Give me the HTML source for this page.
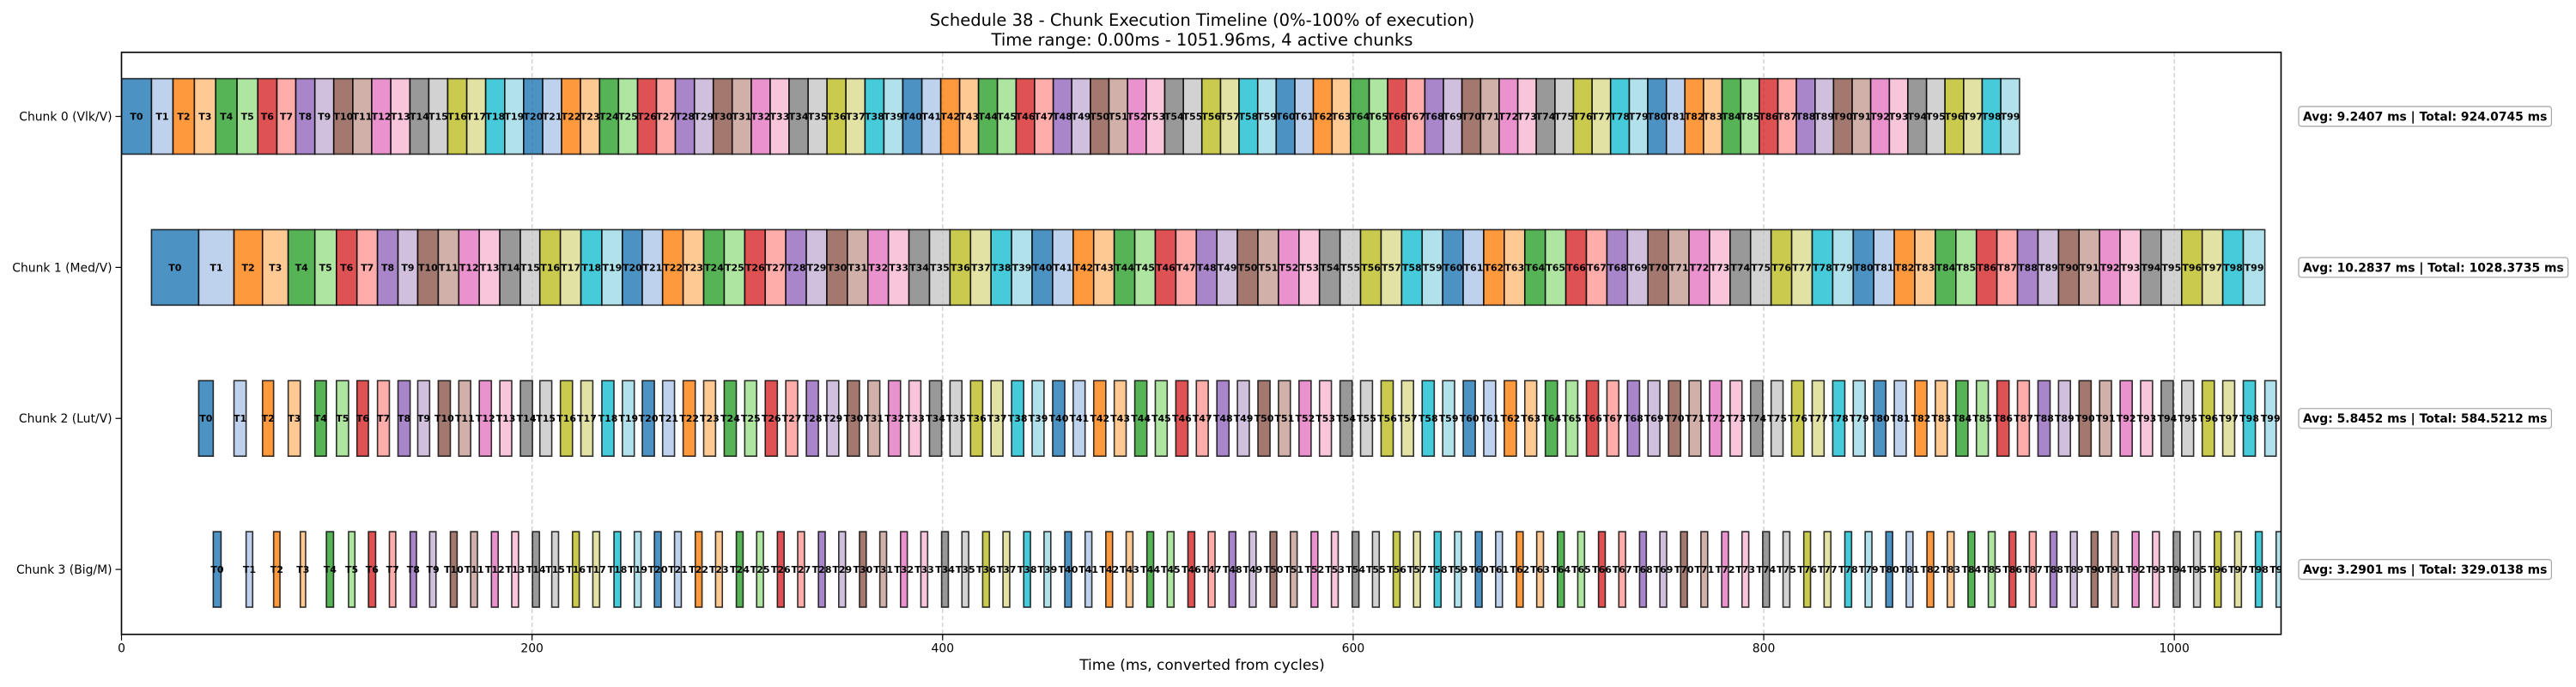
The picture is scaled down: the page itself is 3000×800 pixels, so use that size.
<!DOCTYPE html>
<html>
<head>
<meta charset="utf-8">
<style>
  html, body { margin:0; padding:0; background:#fff; }
  svg { display:block; font-family: "DejaVu Sans", "Liberation Sans", sans-serif; }
</style>
</head>
<body>
<svg id="chart" width="3000" height="800" viewBox="0 0 3000 800" xmlns="http://www.w3.org/2000/svg">
  <rect x="0" y="0" width="3000" height="800" fill="#fff"/>
  <text x="1400" y="30" text-anchor="middle" font-size="19.5" fill="#000">Schedule 38 - Chunk Execution Timeline (0%-100% of execution)</text>
  <text x="1400" y="53" text-anchor="middle" font-size="19.5" fill="#000">Time range: 0.00ms - 1051.96ms, 4 active chunks</text>
  <defs>
    <clipPath id="plotclip"><rect x="141.5" y="61" width="2515" height="677.7"/></clipPath>
  </defs>
  <g id="grid"></g>
  <g id="bars" clip-path="url(#plotclip)"></g>
  <g id="axes"></g>
  <text x="1400" y="780" text-anchor="middle" font-size="17" fill="#000">Time (ms, converted from cycles)</text>
  <g id="stats"></g>
</svg>
<script>
const chunkLabels = ["Chunk 0 (Vlk/V)", "Chunk 1 (Med/V)", "Chunk 2 (Lut/V)", "Chunk 3 (Big/M)"];
const statLabels = ["Avg: 9.2407 ms | Total: 924.0745 ms", "Avg: 10.2837 ms | Total: 1028.3735 ms", "Avg: 5.8452 ms | Total: 584.5212 ms", "Avg: 3.2901 ms | Total: 329.0138 ms"];
const xTicks = [0, 200, 400, 600, 800, 1000];
const dur0 = [14.6,10.5,10.4,10.4,10.4,10.1,9.3,9.2,9.3,9.2,9.3,9.2,9.3,9.3,9.2,9.2,9.3,9.2,9.3,9.2,
  9.3,9.2,9.2,9.3,9.2,9.3,9.2,9.2,9.3,9.2,9.2,9.3,9.2,9.2,9.3,9.2,9.2,9.3,9.2,9.2,
  9.3,9.2,9.2,9.2,9.2,9.1,9.0,9.1,9.0,9.1,9.0,9.1,9.1,9.0,9.1,9.0,9.1,9.0,9.1,9.0,
  9.1,9.0,9.1,9.0,9.1,9.0,9.1,9.0,9.1,9.0,9.1,9.0,9.1,9.0,9.1,9.0,9.1,9.0,9.1,9.0,
  9.1,9.0,9.1,9.0,9.1,9.0,9.1,9.0,9.1,9.0,9.1,9.0,9.1,9.0,9.1,9.0,9.1,9.0,9.1,9.1];
const dur1 = [23.0,17.2,13.9,12.5,13.0,10.5,10.0,10.0,10.0,9.6,10.0,10.0,10.0,10.0,10.0,9.5,10.0,10.0,10.2,10.0,
  9.7,9.9,10.0,10.0,10.0,10.0,10.0,10.0,10.0,10.0,10.0,10.0,10.0,10.0,10.0,10.0,10.0,10.0,10.0,10.0,
  10.0,10.0,10.0,10.0,10.0,10.0,10.0,10.0,10.0,10.0,10.0,10.0,10.0,10.0,10.0,10.0,10.0,10.0,10.0,10.0,
  10.0,10.0,10.0,10.0,10.0,10.0,10.0,10.0,10.0,10.0,10.0,10.0,10.0,10.0,10.0,10.0,10.0,10.0,10.0,10.0,
  10.0,10.0,10.0,10.0,10.0,10.0,10.0,10.0,10.0,10.0,10.0,10.0,10.0,10.0,10.0,10.0,10.0,10.0,10.0,10.5];
const dur2 = [7.1,5.9,5.4,5.9,5.6,5.9,5.6,5.8,5.9,5.8,5.9,5.8,5.9,5.8,5.9,5.8,5.9,5.8,5.9,5.8,
  5.9,5.8,5.9,5.8,5.9,5.8,5.9,5.8,5.9,5.8,5.9,5.8,5.9,5.8,5.9,5.8,5.9,5.8,5.9,5.8,
  5.9,5.8,5.9,5.8,5.9,5.8,5.9,5.8,5.9,5.8,5.9,5.8,5.9,5.8,5.9,5.8,5.9,5.8,5.9,5.8,
  5.9,5.8,5.9,5.8,5.9,5.8,5.9,5.8,5.9,5.8,5.9,5.8,5.9,5.8,5.9,5.8,5.9,5.8,5.9,5.8,
  5.9,5.8,5.9,5.8,5.9,5.8,5.9,5.8,5.9,5.8,5.9,5.8,5.9,5.8,5.9,5.8,5.9,5.8,5.9,5.5];
const dur3 = [3.8,3.2,3.1,2.6,3.5,3.1,3.5,3.1,3.1,3.1,3.3,3.3,3.3,3.3,3.4,3.3,3.3,3.3,3.3,3.3,
  3.3,3.3,3.3,3.3,3.3,3.3,3.3,3.3,3.3,3.3,3.3,3.3,3.3,3.3,3.3,3.3,3.3,3.3,3.3,3.3,
  3.3,3.3,3.3,3.3,3.3,3.3,3.3,3.3,3.3,3.3,3.3,3.3,3.3,3.3,3.3,3.3,3.3,3.3,3.3,3.3,
  3.3,3.3,3.3,3.3,3.3,3.3,3.3,3.3,3.3,3.3,3.3,3.3,3.3,3.3,3.3,3.3,3.3,3.3,3.3,3.3,
  3.3,3.3,3.3,3.3,3.3,3.3,3.3,3.3,3.3,3.3,3.3,3.3,3.3,3.3,3.3,3.3,3.3,3.3,3.3,3.3];
const tab20 = ["#1f77b4","#aec7e8","#ff7f0e","#ffbb78","#2ca02c","#98df8a","#d62728","#ff9896","#9467bd","#c5b0d5",
  "#8c564b","#c49c94","#e377c2","#f7b6d2","#7f7f7f","#c7c7c7","#bcbd22","#dbdb8d","#17becf","#9edae5"];

const NS = "http://www.w3.org/2000/svg";
const X0 = 141.5, X1 = 2656.5, XMAX = 1052;
const Y0 = 61, Y1 = 738.7, YMIN = -0.424, YMAX = 3.43;
function xs(v){ return X0 + (v / XMAX) * (X1 - X0); }
function ys(v){ return Y0 + ((v - YMIN) / (YMAX - YMIN)) * (Y1 - Y0); }
function mk(tag, attrs, parent){ const e = document.createElementNS(NS, tag); for (const k in attrs) e.setAttribute(k, attrs[k]); parent.appendChild(e); return e; }

const grid = document.getElementById('grid');
const bars = document.getElementById('bars');
const axes = document.getElementById('axes');
const stats = document.getElementById('stats');

// grid
xTicks.forEach(t => {
  const l = mk('line', {x1: xs(t), x2: xs(t), y1: Y0, y2: Y1, stroke: '#b0b0b0', 'stroke-width': 1.2, 'stroke-dasharray': '5,3', 'stroke-opacity': 0.7}, grid);
  
  
});

// schedule
const durs = [dur0, dur1, dur2, dur3];
const ends = [];
durs.forEach((d, c) => {
  const e = [];
  d.forEach((v, i) => {
    let s = 0;
    if (i > 0) s = e[i-1];
    if (c > 0) s = Math.max(s, ends[c-1][i]);
    e.push(s + v);
  });
  ends.push(e);
});

const BH = 0.5;
durs.forEach((d, c) => {
  d.forEach((v, i) => {
    const end = ends[c][i], start = end - v;
    const x = xs(start), w = xs(end) - xs(start);
    const yt = ys(c - BH/2), h = ys(c + BH/2) - ys(c - BH/2);
    const r = mk('rect', {x: x, y: yt, width: w, height: h, fill: tab20[i % 20], 'fill-opacity': 0.8, stroke: '#000', 'stroke-width': 1.6, 'stroke-opacity': 0.8}, bars);
    
    
    const t = mk('text', {x: x + w/2, y: ys(c) + 4, 'text-anchor': 'middle', 'font-size': 11, 'font-weight': 'bold', fill: '#000'}, bars);
    t.textContent = 'T' + i;
    
    
  });
});

// axes frame
const frame = mk('rect', {x: X0, y: Y0, width: X1 - X0, height: Y1 - Y0, fill: 'none', stroke: '#000', 'stroke-width': 1.6}, axes);



xTicks.forEach(t => {
  const tk = mk('line', {x1: xs(t), x2: xs(t), y1: Y1, y2: Y1 + 7, stroke: '#000', 'stroke-width': 1.2}, axes);
  
  
  const lb = mk('text', {x: xs(t), y: Y1 + 21, 'text-anchor': 'middle', 'font-size': 13.9, fill: '#000'}, axes);
  lb.textContent = String(t);
  
  
});

chunkLabels.forEach((name, c) => {
  const tk = mk('line', {x1: X0 - 7, x2: X0, y1: ys(c), y2: ys(c), stroke: '#000', 'stroke-width': 1.2}, axes);
  
  
  const lb = mk('text', {x: X0 - 11, y: ys(c) + 5, 'text-anchor': 'end', 'font-size': 13.9, fill: '#000'}, axes);
  lb.textContent = name;
  
  
});

statLabels.forEach((s, c) => {
  const g = mk('g', {}, stats);
  
  
  const t = mk('text', {x: 2682, y: ys(c) + 5, 'font-size': 13.9, 'font-weight': 'bold', fill: '#000'}, g);
  t.textContent = s;
  
  
  const bw = t.getComputedTextLength();
  const b = mk('rect', {x: 2677, y: ys(c) - 11.5, width: bw + 10, height: 23, rx: 3, ry: 3, fill: '#fff', stroke: '#aaa', 'stroke-width': 1.3}, g);
  
  
  g.insertBefore(b, t);
});
</script>
</body>
</html>
